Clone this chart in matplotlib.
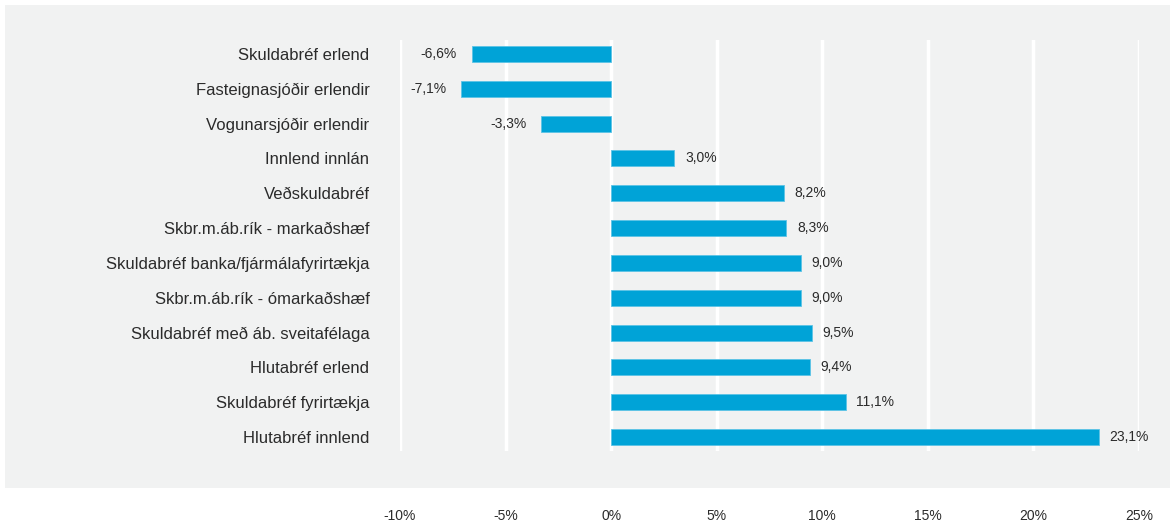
import matplotlib.pyplot as plt
from matplotlib.patches import Rectangle

categories = [
    'Skuldabréf erlend',
    'Fasteignasjóðir erlendir',
    'Vogunarsjóðir erlendir',
    'Innlend innlán',
    'Veðskuldabréf',
    'Skbr.m.áb.rík - markaðshæf',
    'Skuldabréf banka/fjármálafyrirtækja',
    'Skbr.m.áb.rík - ómarkaðshæf',
    'Skuldabréf með áb. sveitafélaga',
    'Hlutabréf erlend',
    'Skuldabréf fyrirtækja',
    'Hlutabréf innlend',
]
values = [-6.6, -7.1, -3.3, 3.0, 8.2, 8.3, 9.0, 9.0, 9.5, 9.4, 11.1, 23.1]
ticks = [-10, -5, 0, 5, 10, 15, 20, 25]

BAR = '#00a3d7'
BG = '#f1f2f2'
TXT = '#2b2b2b'

plt.rcParams['font.family'] = ['Liberation Sans', 'DejaVu Sans']

fig = plt.figure(figsize=(11.74, 5.27), dpi=100)
fig.patches.append(Rectangle((5 / 1174, 1 - 488 / 527), 1165 / 1174, 483 / 527,
                             transform=fig.transFigure, facecolor=BG,
                             edgecolor='none', zorder=-5))

ax = fig.add_axes([400 / 1174, 1 - 451 / 527, 739 / 1174, 411 / 527])
ax.patch.set_visible(False)

y = range(len(categories))
ax.barh(y, values, height=0.46, color=BAR, edgecolor='#5cc3e6', linewidth=0.6, zorder=3)

for yi, v in zip(y, values):
    label = f'{v:.1f}'.replace('.', ',') + '%'
    if v < 0:
        ax.text(v - 0.7, yi, label, ha='right', va='center', fontsize=10, color=TXT)
    else:
        ax.text(v + 0.5, yi, label, ha='left', va='center', fontsize=10, color=TXT)

ax.set_xlim(-10, 25)
ax.set_ylim(len(categories) - 0.6, -0.4)
ax.set_xticks(ticks)
ax.set_xticklabels([f'{t}%' for t in ticks], fontsize=10, color=TXT)
ax.set_yticks(list(y))
ax.set_yticklabels(categories, fontsize=12, color=TXT)
ax.tick_params(axis='x', length=0, pad=42)
ax.tick_params(axis='y', length=0, pad=22)
ax.grid(axis='x', color='white', linewidth=2.5, zorder=1)
ax.set_axisbelow(True)
for s in ax.spines.values():
    s.set_visible(False)

fig.savefig('out.png', dpi=100)
